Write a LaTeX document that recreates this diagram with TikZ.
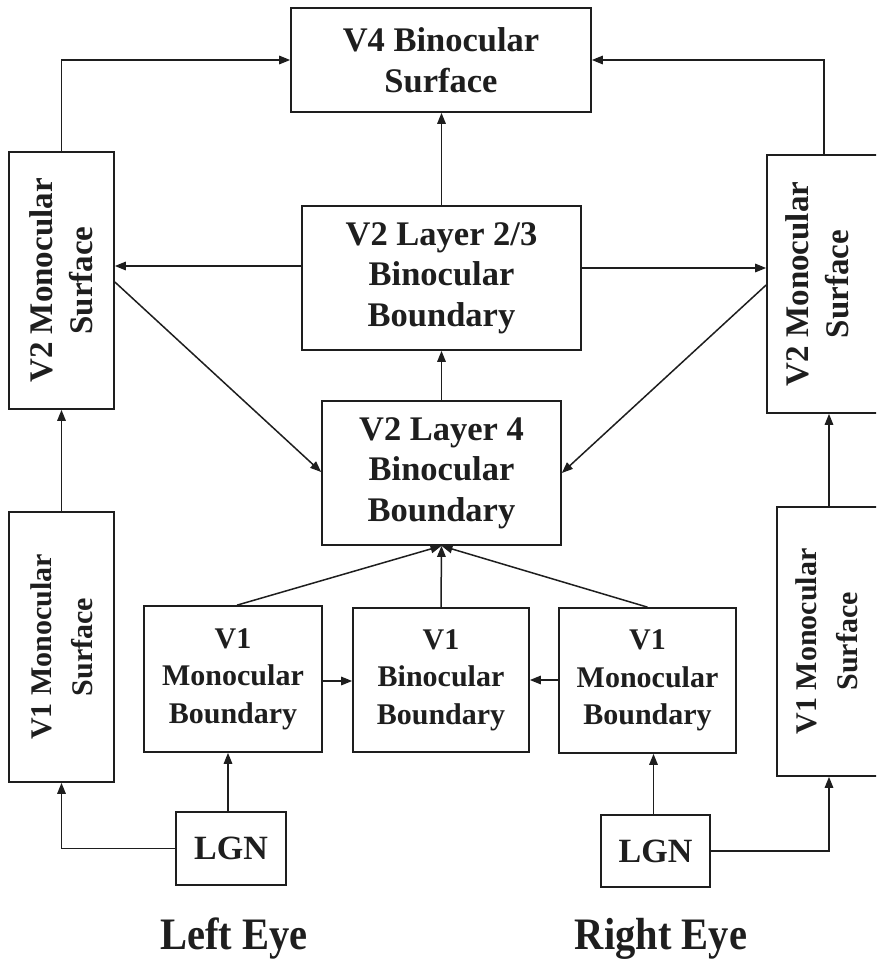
\documentclass[tikz,border=0pt]{standalone}
\usepackage{fontspec}
\setmainfont{Liberation Serif}
\usetikzlibrary{arrows.meta}
\definecolor{ink}{HTML}{1E1E1E}
\tikzset{
  box/.style={draw=ink, line width=1.7pt, inner sep=0pt, align=center, text=ink,
    font=\bfseries\fontsize{34.5}{40.5}\selectfont},
  smallbox/.style={box, font=\bfseries\fontsize{30}{37.5}\selectfont},
  lgnbox/.style={box, font=\bfseries\fontsize{34}{40}\selectfont},
  vtext/.style={rotate=90, align=center, text=ink, inner sep=0pt,
    font=\bfseries\fontsize{33}{40}\selectfont},
  vtextsmall/.style={vtext, font=\bfseries\fontsize{30}{41}\selectfont},
  arr/.style={draw=ink, line width=1.5pt, -{Triangle[length=11pt,width=8.5pt]}},
  eye/.style={text=ink, inner sep=0pt, anchor=base, font=\bfseries\fontsize{45}{50}\selectfont}
}
\begin{document}
\begin{tikzpicture}[x=1pt,y=-1pt]
\useasboundingbox (0,0) rectangle (876,961);
\clip (0,0) rectangle (876,961);
\fill[white] (0,0) rectangle (876,961);

% boxes
\node[box, minimum width=300pt, minimum height=104pt] (v4) at (441,60) {V4 Binocular\\Surface};
\node[box, minimum width=279pt, minimum height=144pt] (l23) at (441.5,278) {V2 Layer 2/3\\Binocular\\Boundary};
\node[box, minimum width=239pt, minimum height=144pt] (l4) at (441.5,473) {V2 Layer 4\\Binocular\\Boundary};

\node[box, minimum width=105pt, minimum height=257pt] (v2L) at (61.5,280.5) {};
\node[vtext] (v2Lt) at (v2L.center) {V2 Monocular\\Surface};
\node[box, minimum width=114pt, minimum height=258pt] (v2R) at (824,284) {};
\node[vtext] (v2Rt) at ([xshift=-7pt]v2R.center) {V2 Monocular\\Surface};
\node[box, minimum width=105pt, minimum height=270pt] (v1L) at (61.5,647) {};
\node[vtextsmall] (v1Lt) at (v1L.center) {V1 Monocular\\Surface};
\node[box, minimum width=104pt, minimum height=269pt] (v1R) at (829,641.5) {};
\node[vtextsmall] (v1Rt) at ([xshift=-2.5pt]v1R.center) {V1 Monocular\\Surface};

\node[smallbox, minimum width=178pt, minimum height=146pt] (mbL) at (233,679) {V1\\Monocular\\Boundary};
\node[smallbox, minimum width=176pt, minimum height=144pt] (bino) at (441,680) {V1\\Binocular\\Boundary};
\node[smallbox, minimum width=177pt, minimum height=145pt] (mbR) at (647.5,680.5) {V1\\Monocular\\Boundary};

\node[lgnbox, minimum width=110pt, minimum height=73pt] (lgnL) at (231,848.5) {LGN};
\node[lgnbox, minimum width=109pt, minimum height=72pt] (lgnR) at (655.5,851) {LGN};

\node[eye] (leye) at (234,949) {\scalebox{0.9}[1]{Left Eye}};
\node[eye] (reye) at (661,949) {\scalebox{0.9}[1]{Right Eye}};

% connectors
\draw[arr] (v2L.north) |- (v4.west);
\draw[arr] (v2R.north) |- (v4.east);
\draw[arr] (l23.north) -- (l23.north |- v4.south);
\draw[arr] (l23.west |- 0,266) -- (v2L.east |- 0,266);
\draw[arr] (l23.east |- 0,268) -- (v2R.west |- 0,268);
\draw[arr] (v2L.east |- 0,282) -- (l4.west |- 0,472);
\draw[arr] (v2R.west |- 0,285) -- (l4.east |- 0,473);
\draw[arr] (l4.north) -- (l4.north |- l23.south);
\draw[arr] (v1L.north) -- (v2L.south);
\draw[arr] (v1R.north) -- (v1R.north |- v2R.south);
\draw[arr] (bino.north) -- (l4.south);
\draw[arr] ([xshift=4pt]mbL.north) -- (l4.south);
\draw[arr] (mbR.north) -- (l4.south);
\draw[arr] (mbL.east |- 0,681) -- (bino.west |- 0,681);
\draw[arr] (mbR.west |- 0,680) -- (bino.east |- 0,680);
\draw[arr] ([xshift=-3pt]lgnL.north) -- ([xshift=-3pt]lgnL.north |- mbL.south);
\draw[arr] (lgnL.west) -| (v1L.south);
\draw[arr] ([xshift=-2pt]lgnR.north) -- ([xshift=-2pt]lgnR.north |- mbR.south);
\draw[arr] (lgnR.east) -| (v1R.south);
\end{tikzpicture}
\end{document}
